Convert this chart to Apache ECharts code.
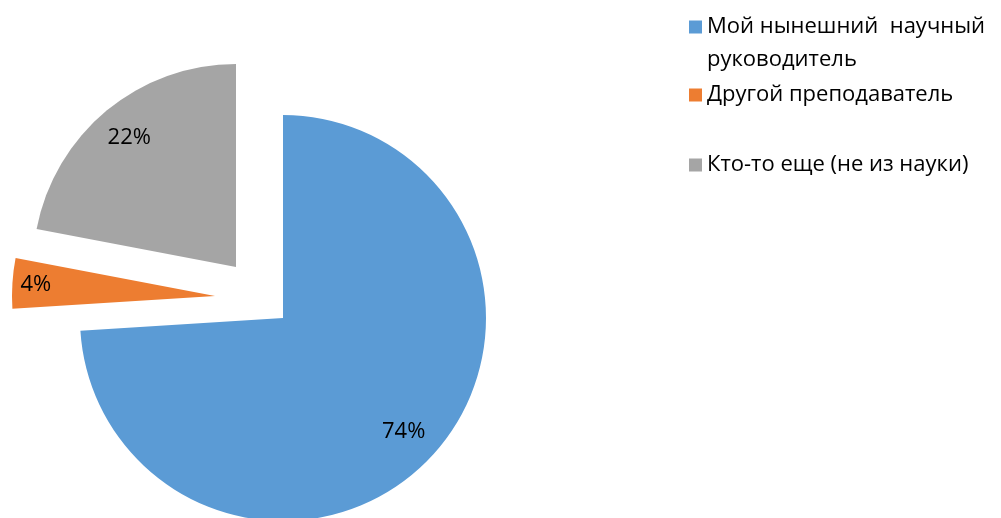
<!DOCTYPE html>
<html>
<head>
<meta charset="utf-8">
<script src="https://cdn.jsdelivr.net/npm/echarts@6/dist/echarts.min.js"></script>
<style>
html, body { margin: 0; padding: 0; background: #fff; }
#chart { width: 1001px; height: 518px; }
</style>
</head>
<body>
<div id="chart"></div>
<script>
// data
const categories = ["Мой нынешний  научный\nруководитель", "Другой преподаватель", "Кто-то еще (не из науки)"];
const values = [74, 4, 22];
const colors = ["#5B9BD5", "#ED7D31", "#A5A5A5"];

// layout: each slice is drawn by its own pie so it can be pulled out on its own
const R = 203;
const centers = [[283, 318], [215, 296], [236, 267]];
const labelInner = [122, 150, 126];
const legendTops = [10.5, 78.5, 148.5];

const FONT = "Open Sans";

const chart = echarts.init(document.getElementById("chart"), null, { renderer: "canvas" });

const series = [];

// shapes
categories.forEach(function (name, i)
{
    series.push({
        type: "pie",
        silent: true,
        animation: false,
        center: centers[i],
        radius: [0, R],
        startAngle: 90,
        clockwise: true,
        label: { show: false },
        labelLine: { show: false },
        emphasis: { disabled: true },
        data: values.map(function (v, j)
        {
            return {
                name: j === i ? categories[j] : "",
                value: v,
                itemStyle: { color: j === i ? colors[j] : "transparent" }
            };
        })
    });
});

// percent labels
categories.forEach(function (name, i)
{
    series.push({
        type: "pie",
        silent: true,
        animation: false,
        center: centers[i],
        radius: [labelInner[i], R],
        startAngle: 90,
        clockwise: true,
        labelLine: { show: false },
        emphasis: { disabled: true },
        data: values.map(function (v, j)
        {
            return {
                name: "",
                value: v,
                itemStyle: { color: "transparent" },
                label: {
                    show: j === i,
                    position: "inside",
                    formatter: "{d}%",
                    color: "#000",
                    fontFamily: FONT,
                    fontSize: 22
                }
            };
        })
    });
});

// first entry wraps onto two lines: keep its square level with the first line
const legends = categories.map(function (name, i)
{
    const twoLines = name.indexOf("\n") >= 0;
    return {
        orient: "vertical",
        left: 689,
        top: legendTops[i],
        padding: 0,
        selectedMode: false,
        icon: twoLines ? "path://M0,0h13v13h-13zM0,46" : "rect",
        itemWidth: 13,
        itemHeight: twoLines ? 46 : 13,
        data: [name],
        textStyle: {
            color: "#000",
            fontFamily: FONT,
            fontSize: 22,
            lineHeight: 33
        }
    };
});

chart.setOption({
    animation: false,
    legend: legends,
    series: series
});
</script>
</body>
</html>
